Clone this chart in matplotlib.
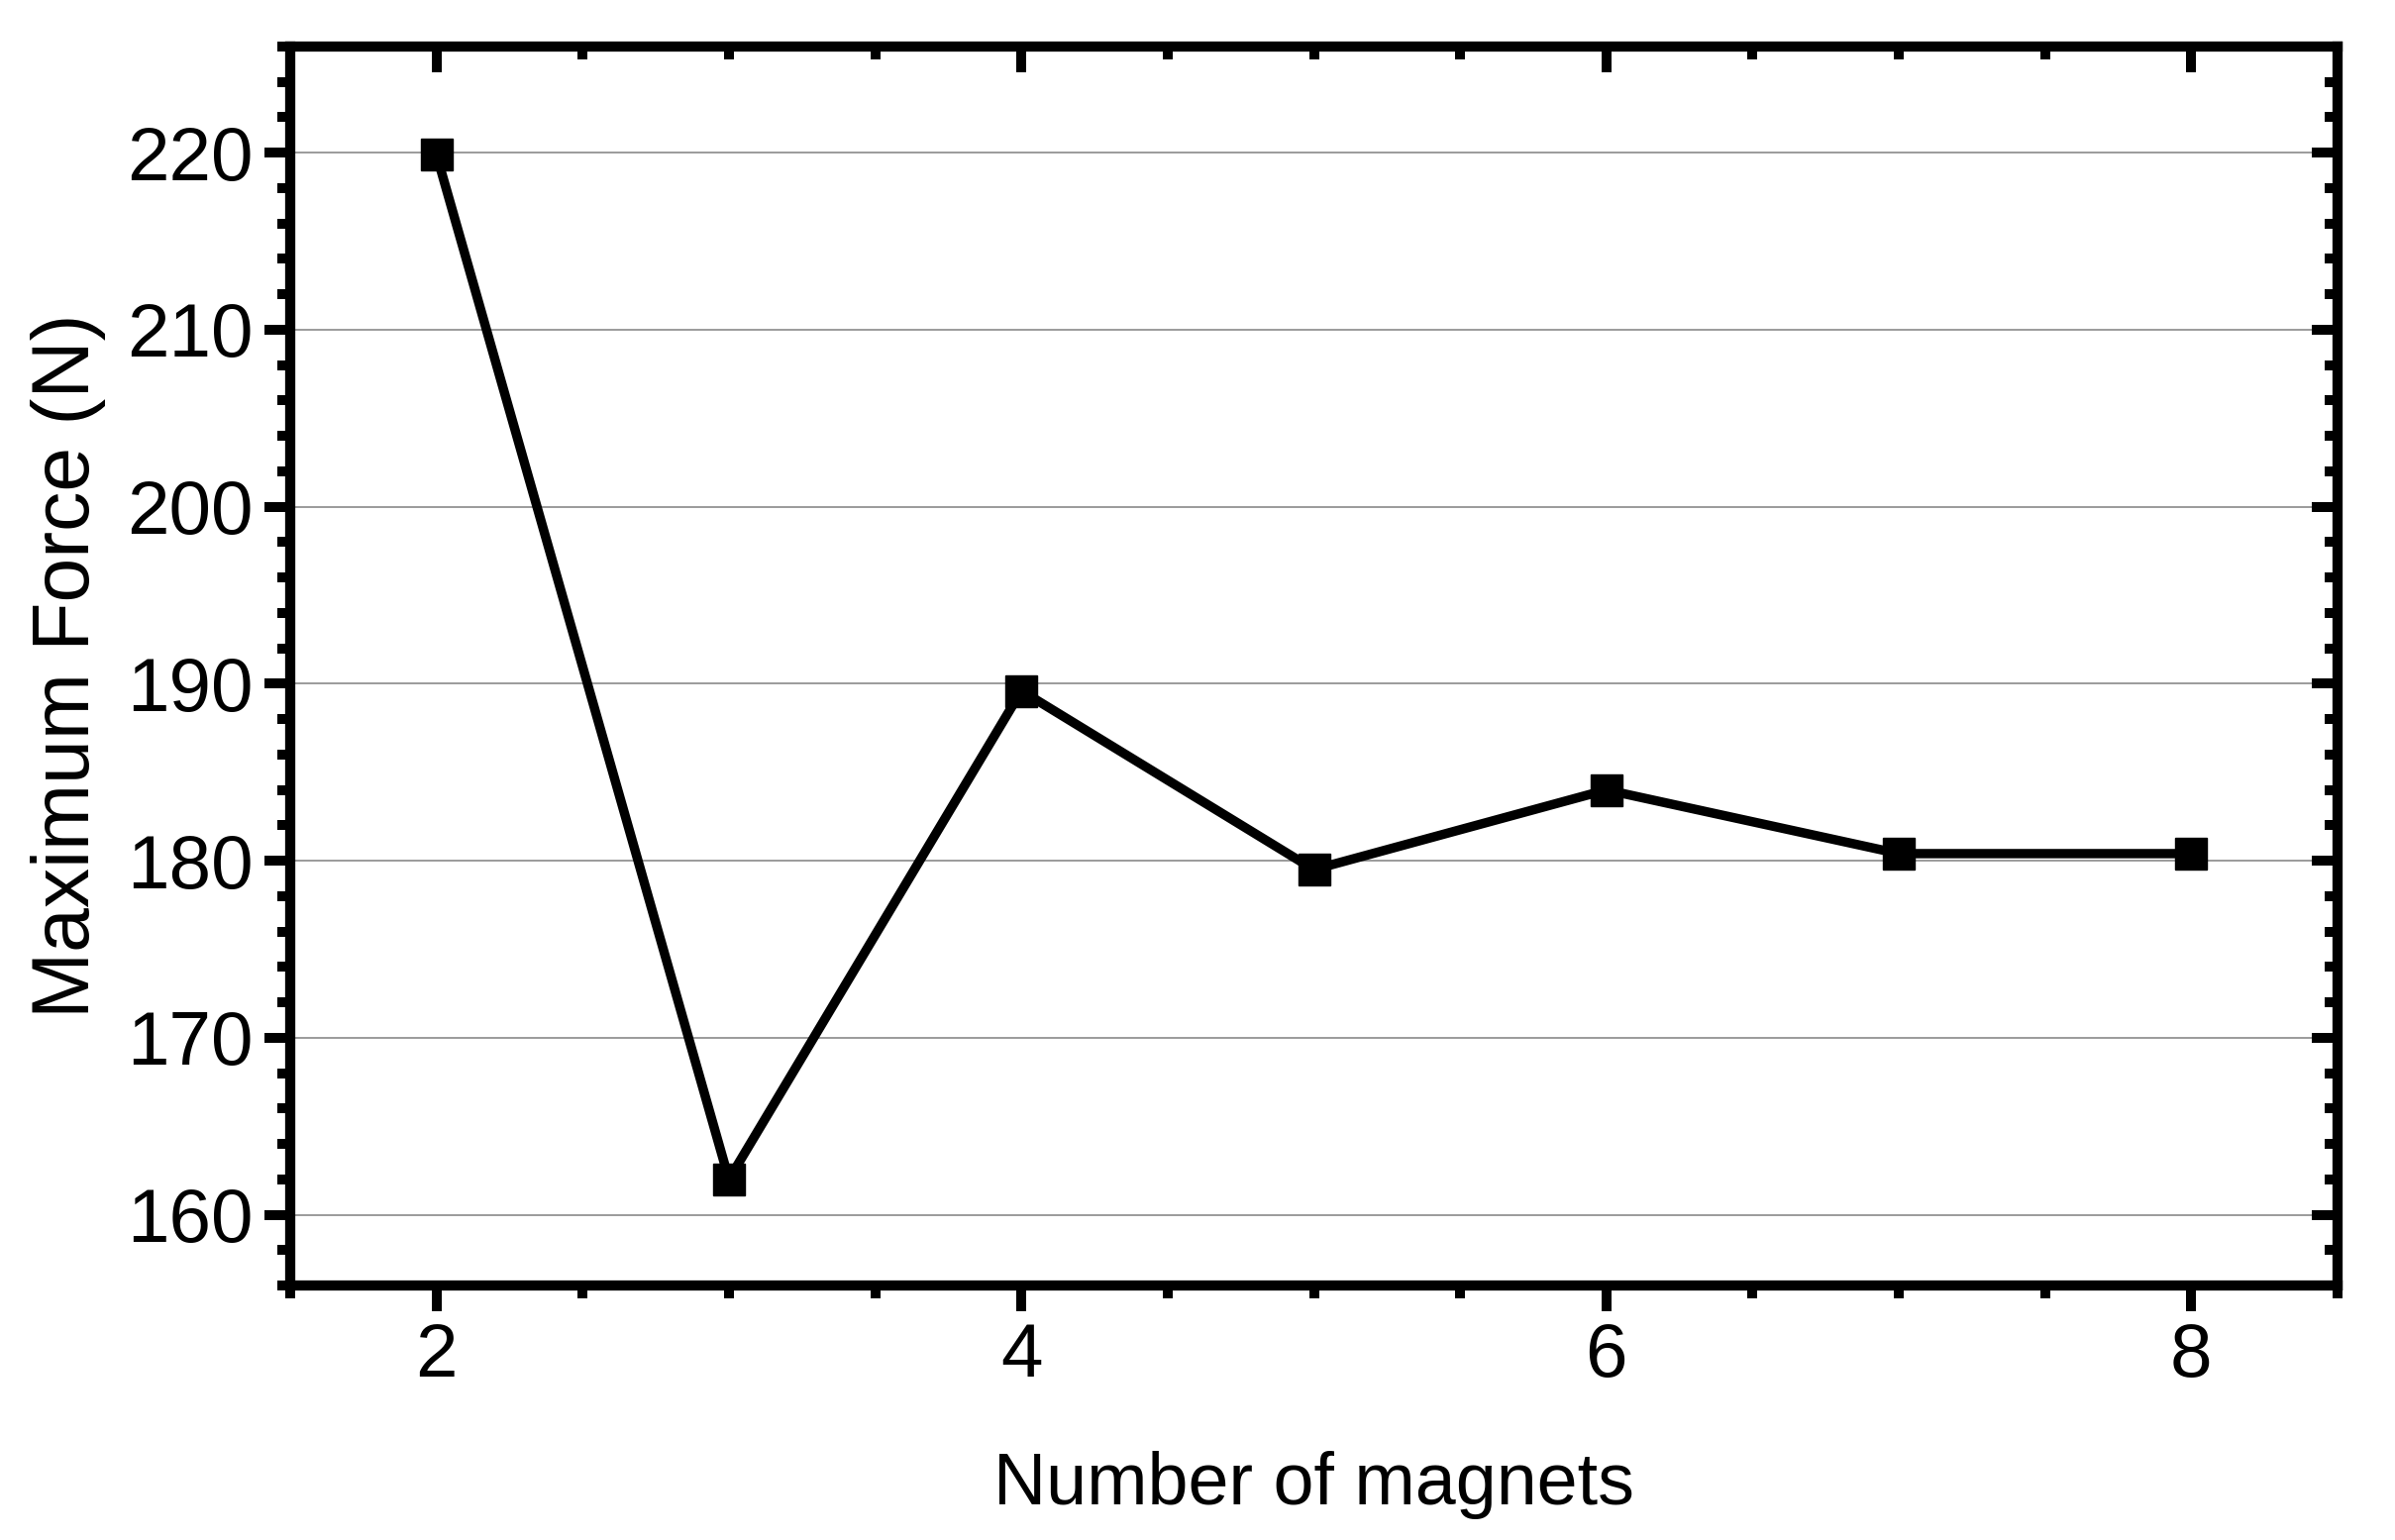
#!/usr/bin/env python3
# -*- coding=utf-8 -*-

import matplotlib
matplotlib.use("Agg")
import matplotlib.pyplot as plt
from matplotlib.ticker import MultipleLocator

# data
magnets = [2, 3, 4, 5, 6, 7, 8]
max_force = [219.9, 162.0, 189.6, 179.5, 184.0, 180.4, 180.4]

x_major = [2, 4, 6, 8]
y_major = [160, 170, 180, 190, 200, 210, 220]

plt.rcParams["font.family"] = ["Liberation Sans", "DejaVu Sans"]

DPI = 100
pos = [293 / 2418, 1 - 1298 / 1555, (2360 - 293) / 2418, (1298 - 47) / 1555]
fig = plt.figure(figsize=(24.18, 15.55), dpi=DPI)
ax = fig.add_axes(pos)

ax.plot(magnets, max_force, color="black", lw=6.8, marker="s", ms=23,
        mfc="black", mec="black", zorder=3, clip_on=False)

ax.set_xlim(1.5, 8.5)
ax.set_ylim(156, 226)
ax.set_xticks(x_major)
ax.set_yticks(y_major)
ax.xaxis.set_minor_locator(MultipleLocator(0.5))
ax.yaxis.set_minor_locator(MultipleLocator(2))

ax.grid(axis="y", which="major", color="#808080", lw=1.1, zorder=1)
ax.set_axisbelow(True)

for sp in ax.spines.values():
    sp.set_linewidth(7.4)

ax.tick_params(which="major", direction="out", length=18.7, width=7.2,
               labelsize=55, pad=8, top=False, right=False)
ax.tick_params(which="minor", direction="out", length=9.4, width=7.2,
               top=False, right=False)

# overlay axes for the inward ticks on top and right, no labels
ax2 = fig.add_axes(pos, frameon=False)
ax2.set_xlim(ax.get_xlim())
ax2.set_ylim(ax.get_ylim())
ax2.set_xticks(x_major)
ax2.set_yticks(y_major)
ax2.xaxis.set_minor_locator(MultipleLocator(0.5))
ax2.yaxis.set_minor_locator(MultipleLocator(2))
ax2.tick_params(which="both", direction="in", width=7.2,
                left=False, bottom=False, top=True, right=True,
                labelleft=False, labelbottom=False, labeltop=False, labelright=False)
ax2.tick_params(which="major", length=18.7)
ax2.tick_params(which="minor", length=9.4)

ax.set_xlabel("Number of magnets", fontsize=53, va="baseline")
ax.xaxis.set_label_coords(0.5, (1298 - 1519) / 1251)
ax.set_ylabel("Maximum Force (N)", fontsize=58, va="center")
ax.yaxis.set_label_coords((69 - 293) / 2067, 0.5)

fig.savefig("out.png", dpi=DPI)
